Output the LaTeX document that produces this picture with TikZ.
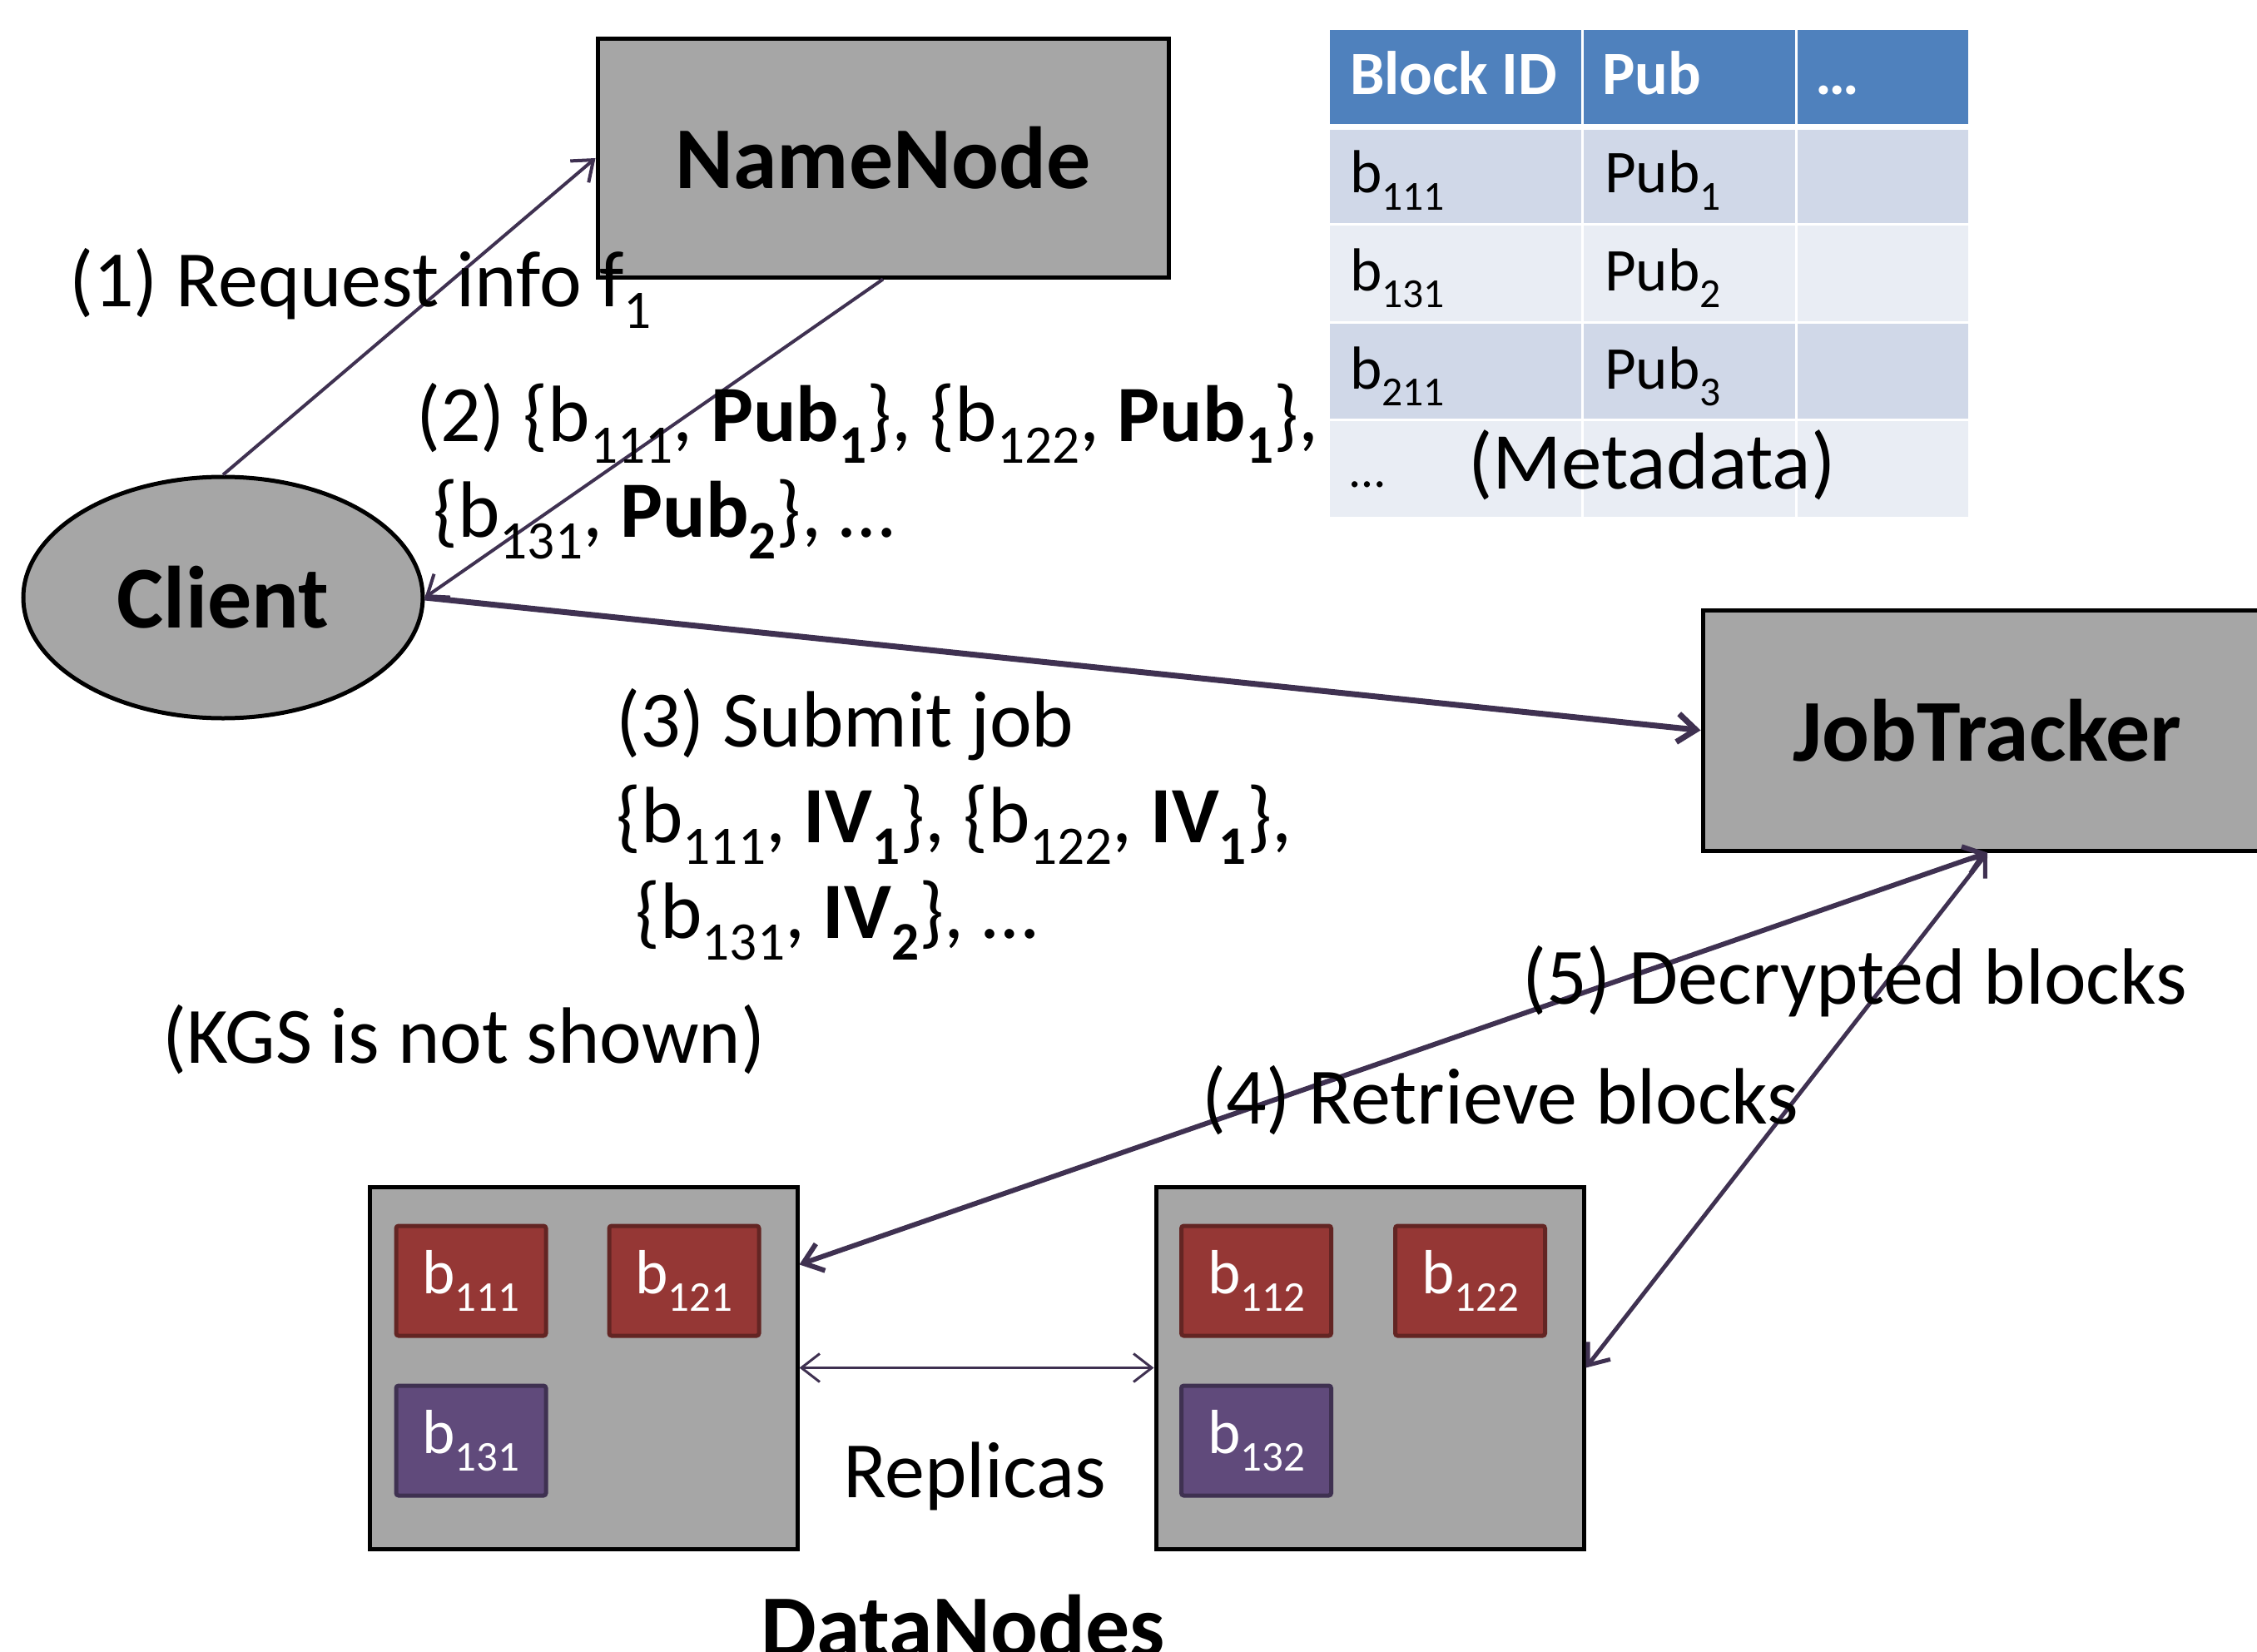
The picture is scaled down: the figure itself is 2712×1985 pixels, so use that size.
\documentclass[tikz,border=0pt]{standalone}
\usepackage{fontspec}
\setmainfont{Carlito}
\usepackage{graphicx}
\usetikzlibrary{arrows.meta,shapes.geometric,calc}
\definecolor{boxgray}{HTML}{A6A6A6}
\definecolor{arrcol}{HTML}{3F3151}
\definecolor{hdrblue}{HTML}{4F81BD}
\definecolor{rowA}{HTML}{D0D8E8}
\definecolor{rowB}{HTML}{E9EDF4}
\definecolor{redfill}{HTML}{953735}
\definecolor{redline}{HTML}{632523}
\definecolor{purfill}{HTML}{604A7B}
\definecolor{purline}{HTML}{3F3151}
\newcommand\sbs[1]{\raisebox{-0.28em}{\scalebox{0.68}{#1}}}
\tikzset{
  graybox/.style={draw=black, fill=boxgray, line width=5pt, inner sep=0pt},
  bigbold/.style={font=\fontsize{106pt}{120pt}\selectfont\bfseries},
  lbl/.style={font=\fontsize{96pt}{110pt}\selectfont, anchor=base west, inner sep=0pt},
  tbl/.style={font=\fontsize{73pt}{85pt}\selectfont, anchor=base west, inner sep=0pt},
  blk/.style={line width=5pt, rounded corners=3pt, minimum width=180pt, minimum height=132pt,
     inner sep=0pt, text=white, font=\fontsize{75pt}{85pt}\selectfont},
  redblk/.style={blk, draw=redline, fill=redfill},
  purblk/.style={blk, draw=purline, fill=purfill},
  conn/.style={draw=arrcol, line width=4pt},
  tip/.style={-{Straight Barb[length=22pt,width=34pt]}},
  dtip/.style={{Straight Barb[length=22pt,width=34pt]}-{Straight Barb[length=22pt,width=34pt]}},
}
\begin{document}
\begin{tikzpicture}[x=1pt,y=-1pt]
\path[use as bounding box] (0,0) rectangle (2712,1985);
\clip (0,0) rectangle (2712,1985);

% metadata table
\fill[hdrblue] (1598,36) rectangle (1900,149);
\fill[hdrblue] (1903,36) rectangle (2157,149);
\fill[hdrblue] (2160,36) rectangle (2365,149);
\foreach \ya/\yb/\c in {156/268/rowA, 271/386/rowB, 389/503/rowA, 506/621/rowB}{
  \fill[\c] (1598,\ya) rectangle (1900,\yb);
  \fill[\c] (1903,\ya) rectangle (2157,\yb);
  \fill[\c] (2160,\ya) rectangle (2365,\yb);
}
\node[tbl, text=white, font=\fontsize{74pt}{85pt}\selectfont\bfseries] (h1) at (1622,114) {Block ID};
\node[tbl, text=white, font=\fontsize{74pt}{85pt}\selectfont\bfseries] (h2) at (1925,114) {Pub};
\node[tbl, text=white, font=\fontsize{74pt}{85pt}\selectfont\bfseries] (h3) at (2181,114) {…};
\node[tbl] (r1a) at (1622,232) {b\sbs{111}};
\node[tbl] (r1b) at (1928,232) {Pub\sbs{1}};
\node[tbl] (r2a) at (1622,349) {b\sbs{131}};
\node[tbl] (r2b) at (1928,349) {Pub\sbs{2}};
\node[tbl] (r3a) at (1622,467) {b\sbs{211}};
\node[tbl] (r3b) at (1928,467) {Pub\sbs{3}};
\node[tbl, font=\fontsize{60pt}{70pt}\selectfont] (r4a) at (1622,585) {…};
\node[lbl, font=\fontsize{97pt}{110pt}\selectfont] (meta) at (1764,587) {(Metadata)};

% main nodes
\node[graybox, bigbold, minimum width=686pt, minimum height=286pt] (nn) at (1061,190) {NameNode};
\node[graybox, bigbold, ellipse, minimum width=480pt, minimum height=290pt] (client) at (268,718) {Client};
\node[graybox, bigbold, minimum width=684pt, minimum height=289pt] (jt) at (2388,877.5) {JobTracker};

% data nodes
\node[graybox, minimum width=514pt, minimum height=435pt] (dn1) at (701,1643.5) {};
\node[graybox, minimum width=514pt, minimum height=435pt] (dn2) at (1646,1643.5) {};
\node[redblk] (b111) at (566,1539) {b\sbs{111}};
\node[redblk] (b121) at (822,1539) {b\sbs{121}};
\node[purblk] (b131) at (566,1731) {b\sbs{131}};
\node[redblk] (b112) at (1509.5,1539) {b\sbs{112}};
\node[redblk] (b122) at (1766.5,1539) {b\sbs{122}};
\node[purblk] (b132) at (1509.5,1731) {b\sbs{132}};

\coordinate (dn1r) at ($(dn1.north east)!0.218!(dn1.south east)$);

% connectors
\draw[conn, tip] (client.north) -- (nn.west);
\draw[conn, tip] (nn.south) -- (client.east);
\draw[conn, tip, line width=7pt] (client.east) -- (jt.west);
\draw[conn, dtip, line width=6pt] (dn1r) -- (jt.south);
\draw[conn, dtip, line width=5pt] (dn2.east) -- (jt.south);
\draw[conn, dtip, line width=3pt] (dn1.east) -- (dn2.west);

% labels
\node[lbl] (t1) at (83,368) {(1) Request info f\sbs{1}};
\node[lbl] (t2a) at (500,530) {(2) \{b\sbs{111}, \textbf{Pub\sbs{1}}\}, \{b\sbs{122}, \textbf{Pub\sbs{1}}\},};
\node[lbl] (t2b) at (520,645) {\{b\sbs{131}, \textbf{Pub\sbs{2}}\}, …};
\node[lbl] (t3a) at (740,897) {(3) Submit job};
\node[lbl] (t3b) at (740,1012) {\{b\sbs{111}, \textbf{IV\sbs{1}}\}, \{b\sbs{122}, \textbf{IV\sbs{1}}\},};
\node[lbl] (t3c) at (763,1127) {\{b\sbs{131}, \textbf{IV\sbs{2}}\}, …};
\node[lbl] (kgs) at (195,1277) {(KGS is not shown)};
\node[lbl] (t5) at (1829,1206) {(5) Decrypted blocks};
\node[lbl] (t4) at (1444,1350) {(4) Retrieve blocks};
\node[lbl] (rep) at (1013,1799) {Replicas};
\node[bigbold, anchor=base, inner sep=0pt] (dnl) at (1157,1990) {DataNodes};
\end{tikzpicture}
\end{document}
